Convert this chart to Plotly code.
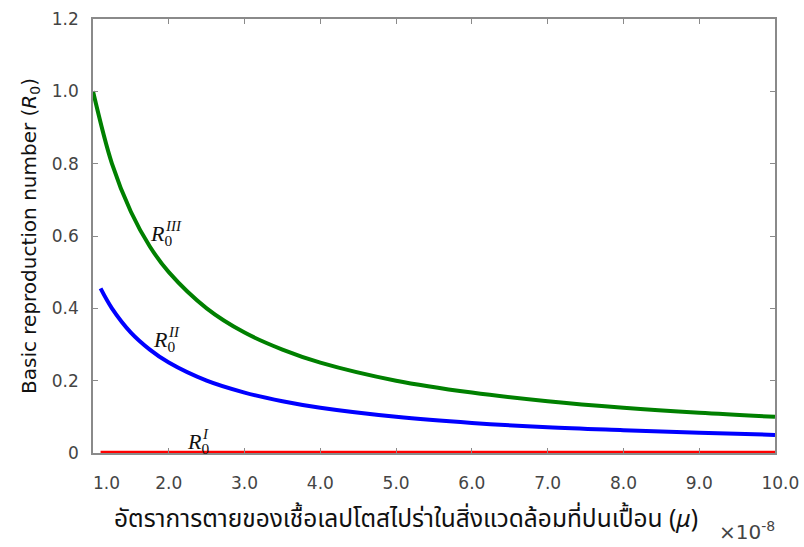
import plotly.graph_objects as go

# Data (x in units of 1e-8)
x_green = [1.0, 1.25, 1.5, 1.75, 2.0, 2.5, 3.0, 3.5, 4.0, 5.0, 6.0, 7.0, 8.0, 9.0, 10.0]
r0_III = [1.0, 0.80, 0.667, 0.571, 0.50, 0.40, 0.333, 0.286, 0.25, 0.20, 0.167, 0.143, 0.125, 0.111, 0.10]

x_blue = [1.1, 1.25, 1.5, 1.75, 2.0, 2.5, 3.0, 3.5, 4.0, 5.0, 6.0, 7.0, 8.0, 9.0, 10.0]
r0_II = [0.455, 0.40, 0.333, 0.286, 0.25, 0.20, 0.167, 0.143, 0.125, 0.10, 0.083, 0.071, 0.063, 0.056, 0.05]

x_red = [1.1, 2.0, 3.0, 4.0, 5.0, 6.0, 7.0, 8.0, 9.0, 10.0]
r0_I = [0.0, 0.0, 0.0, 0.0, 0.0, 0.0, 0.0, 0.0, 0.0, 0.0]

x_ticks = [1, 2, 3, 4, 5, 6, 7, 8, 9, 10]
x_tick_labels = ["1.0", "2.0", "3.0", "4.0", "5.0", "6.0", "7.0", "8.0", "9.0", "10.0"]
y_ticks = [0, 0.2, 0.4, 0.6, 0.8, 1.0, 1.2]
y_tick_labels = ["0", "0.2", "0.4", "0.6", "0.8", "1.0", "1.2"]

# curve labels: (x, y, superscript)
curve_labels = [(1.73, 0.611, "III"), (1.77, 0.318, "II"), (2.21, 0.036, "I")]

NB = "\u00a0"
# the end labels sit slightly inside/outside the frame in the reference
x_tick_text = list(x_tick_labels)
x_tick_text[0] = NB * 5 + x_tick_text[0]
x_tick_text[-1] = NB * 2 + x_tick_text[-1]

fig = go.Figure()
# invisible trace to anchor the overlay axes that draw the inner ticks
fig.add_trace(go.Scatter(x=[x_green[0]], y=[r0_III[0]], mode="markers", marker=dict(opacity=0),
                         xaxis="x2", yaxis="y2", showlegend=False, hoverinfo="skip"))
fig.add_trace(go.Scatter(x=x_red, y=r0_I, mode="lines", line=dict(color="#ff0000", width=4.5),
                         showlegend=False, cliponaxis=False))
fig.add_trace(go.Scatter(x=x_blue, y=r0_II, mode="lines", line=dict(color="#0000ff", width=4, shape="spline"),
                         showlegend=False, cliponaxis=False))
fig.add_trace(go.Scatter(x=x_green, y=r0_III, mode="lines", line=dict(color="#008000", width=4, shape="spline"),
                         showlegend=False, cliponaxis=False))

serif = "Liberation Serif"
for lx, ly, sup in curve_labels:
    fig.add_annotation(x=lx, y=ly, xref="x", yref="y", showarrow=False,
                       text="<i>R</i><sub>0</sub>", font=dict(family=serif, size=22, color="#111"),
                       xanchor="left", yanchor="middle", yshift=-3)
    fig.add_annotation(x=lx, y=ly, xref="x", yref="y", showarrow=False,
                       text="<i>%s</i>" % sup, font=dict(family=serif, size=15, color="#111"),
                       xanchor="left", yanchor="middle", xshift=15, yshift=6)

# exponent marker
fig.add_annotation(x=1.0, y=0, xref="paper", yref="paper", showarrow=False,
                   text="×10<sup>-8</sup>", font=dict(family="DejaVu Sans", size=20, color="#444"),
                   xanchor="right", yanchor="middle", xshift=2, yshift=-78)

# x-axis title
fig.add_annotation(x=5.13, y=0, xref="x", yref="paper", showarrow=False,
                   text="อัตราการตายของเชื้อเลปโตสไปร่าในสิ่งแวดล้อมที่ปนเปื้อน (<i>μ</i>)",
                   font=dict(family="Noto Sans Thai, Noto Sans, sans-serif", size=24.5, color="#111"),
                   xanchor="center", yanchor="middle", yshift=-66)

# y-axis title
fig.add_annotation(x=0, y=0.5, xref="paper", yref="paper", showarrow=False, textangle=-90,
                   text="Basic reproduction number (<i>R</i><sub>0</sub>)",
                   font=dict(family="DejaVu Sans", size=20, color="#111"),
                   xanchor="center", yanchor="middle", xshift=-63)

tickfont = dict(family="DejaVu Sans", size=17, color="#444")
line_style = dict(showline=True, linecolor="#8a8a8a", linewidth=1.5, showgrid=False,
                  zeroline=False, automargin=False)

# label axes: transparent outside ticks push labels away from the frame
fig.update_layout(
    xaxis=dict(range=[1, 10], tickvals=x_ticks, ticktext=x_tick_text, ticks="outside",
               ticklen=14, tickcolor="rgba(0,0,0,0)", tickfont=tickfont, mirror=True, **line_style),
    yaxis=dict(range=[0, 1.2], tickvals=y_ticks, ticktext=y_tick_labels, ticks="outside",
               ticklen=9, tickcolor="rgba(0,0,0,0)", tickfont=tickfont, mirror=True, **line_style),
    xaxis2=dict(range=[1, 10], tickvals=x_ticks, overlaying="x", anchor="y2", side="bottom",
                ticks="inside", ticklen=5, tickwidth=1, tickcolor="#8a8a8a", mirror="ticks",
                showticklabels=False, **line_style),
    yaxis2=dict(range=[0, 1.2], tickvals=y_ticks, overlaying="y", anchor="x2", side="left",
                ticks="inside", ticklen=5, tickwidth=1, tickcolor="#8a8a8a", mirror="ticks",
                showticklabels=False, **line_style),
    width=804, height=547, margin=dict(l=93, r=29, t=19, b=94),
    plot_bgcolor="white", paper_bgcolor="white",
)

fig.write_html("out.html", config={"displayModeBar": False},
               post_script="document.body.style.margin='0';")
